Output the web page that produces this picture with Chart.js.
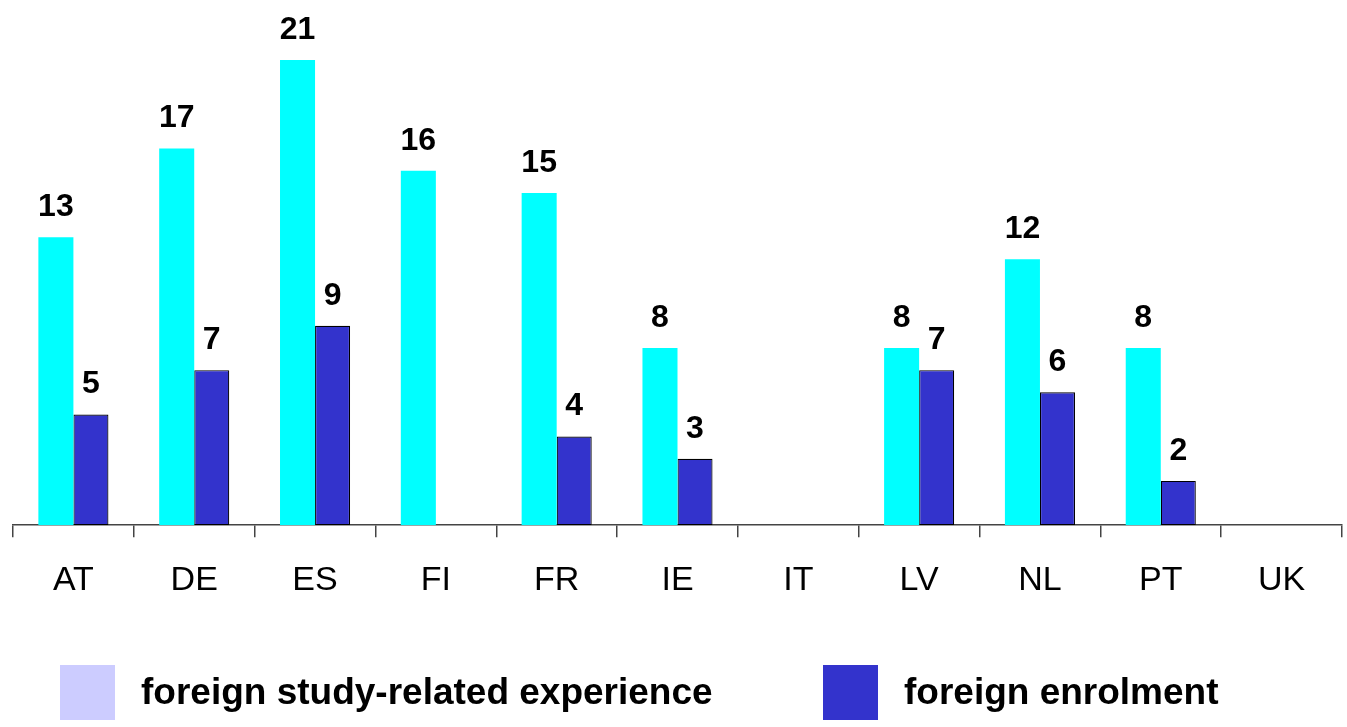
<!DOCTYPE html>
<html>
<head>
<meta charset="utf-8">
<script src="https://cdn.jsdelivr.net/npm/chart.js@4.4.0/dist/chart.umd.min.js"></script>
<style>
  body { margin: 0; background: #fff; }
  canvas { display: block; }
</style>
</head>
<body>
<canvas id="chart" width="1347" height="727"></canvas>
<script>
// countries on the x axis
const countries = ['AT', 'DE', 'ES', 'FI', 'FR', 'IE', 'IT', 'LV', 'NL', 'PT', 'UK'];
// null = no bar shown
const studyExperience = [13, 17, 21, 16, 15, 8, null, 8, 12, 8, null];
const foreignEnrolment = [5, 7, 9, null, 4, 3, null, 7, 6, 2, null];
const seriesLabels = ['foreign study-related experience', 'foreign enrolment'];

const FONT = '"Liberation Sans", Arial, sans-serif';

// numbers above each bar
const valueLabels = {
    id: 'valueLabels',
    afterDatasetsDraw(chart) {
        const ctx = chart.ctx;
        ctx.save();
        ctx.font = 'bold 32px ' + FONT;
        ctx.fillStyle = '#000';
        ctx.textAlign = 'center';
        ctx.textBaseline = 'bottom';
        chart.data.datasets.forEach((ds, i) => {
            chart.getDatasetMeta(i).data.forEach((bar, j) => {
                if (ds.data[j] == null) return;
                ctx.fillText(ds.data[j], bar.x, bar.y - 14);
            });
        });
        ctx.restore();
    }
};

// legend at the bottom, drawn by hand (first swatch differs from the bars in the original)
const bottomLegend = {
    id: 'bottomLegend',
    afterDraw(chart, args, opts) {
        const ctx = chart.ctx;
        ctx.save();
        ctx.font = 'bold 37px ' + FONT;
        ctx.textBaseline = 'middle';
        opts.items.forEach((item, i) => {
            ctx.fillStyle = item.color;
            ctx.fillRect(item.x, opts.top, opts.size, opts.size);
            ctx.fillStyle = '#000';
            ctx.fillText(chart.data.datasets[i].label, item.x + opts.size + 26, opts.top + opts.size / 2 + 1);
        });
        ctx.restore();
    }
};

new Chart(document.getElementById('chart'), {
    type: 'bar',
    data: {
        labels: countries,
        datasets: [
            {
                label: seriesLabels[0],
                data: studyExperience,
                backgroundColor: '#00ffff',
                borderWidth: 0
            },
            {
                label: seriesLabels[1],
                data: foreignEnrolment,
                backgroundColor: '#3333cc',
                borderColor: '#000',
                borderWidth: 1.2,
                borderSkipped: false
            }
        ]
    },
    options: {
        responsive: false,
        animation: false,
        categoryPercentage: 0.58,
        barPercentage: 1.0,
        layout: { padding: { left: 13, right: 5, top: 60, bottom: 103 } },
        scales: {
            y: { display: false, min: 0, max: 21 },
            x: {
                border: { display: true, color: '#444', width: 1.5 },
                grid: { drawOnChartArea: false, drawTicks: true, tickLength: 12, color: '#444', lineWidth: 1.5 },
                ticks: { color: '#000', font: { family: FONT, size: 34 }, padding: 23 }
            }
        },
        plugins: {
            legend: { display: false },
            tooltip: { enabled: false },
            bottomLegend: {
                top: 665,
                size: 55,
                items: [{ x: 60, color: '#ccccff' }, { x: 823, color: '#3333cc' }]
            }
        }
    },
    plugins: [valueLabels, bottomLegend]
});
</script>
</body>
</html>
